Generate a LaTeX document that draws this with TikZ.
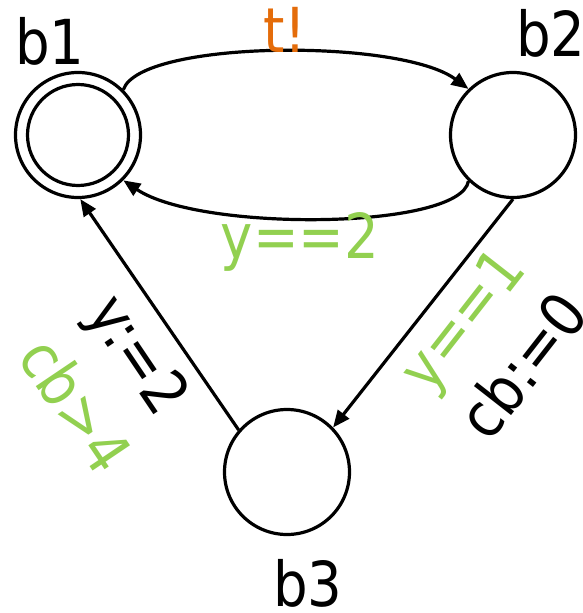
\documentclass[tikz,border=0pt]{standalone}
\usepackage{fontspec}
\setmainfont{DejaVu Sans}[FakeStretch=0.88]
\usetikzlibrary{arrows.meta}
\definecolor{grn}{HTML}{92D050}
\definecolor{org}{HTML}{E46C0A}
\begin{document}
\begin{tikzpicture}[x=1pt,y=-1pt,
  state/.style={draw,circle,line width=3.2pt,minimum size=125pt,inner sep=0pt},
  lbl/.style={font=\fontsize{62}{62}\selectfont,inner sep=0pt},
  edge/.style={line width=3.2pt,-{Triangle[length=17pt,width=14pt]}}]
\useasboundingbox (0,0) rectangle (583,613);
\node[state] (b1) at (78,135) {};
\node[state,minimum size=101pt] (b1i) at (78,135) {};
\node[state] (b2) at (513,135) {};
\node[state] (b3) at (287,472) {};
\draw[edge] (b1.45) .. controls (140,40) and (400,38) .. (b2.134);
\draw[edge] (b2.-134) .. controls (460,230) and (200,232) .. (b1.-45);
\draw[edge] (b3.139) -- (b1.-88);
\draw[edge] (b2.-90) -- (b3.44);
\node[lbl] (lb1) at (50,41) {b1};
\node[lbl] (lb2) at (551,33) {b2};
\node[lbl] (lb3) at (308,583) {b3};
\node[lbl,text=org] (lt) at (285,30) {t!};
\node[lbl,text=grn] (lg) at (300,242) {y==2};
\node[lbl,rotate=-56] (la1) at (135,357) {y:=2};
\node[lbl,rotate=-56,text=grn] (la2) at (76,405) {cb>4};
\node[lbl,rotate=52,text=grn] (lr1) at (466,323) {y==1};
\node[lbl,rotate=52] (lr2) at (522,365) {cb:=0};
\end{tikzpicture}
\end{document}
